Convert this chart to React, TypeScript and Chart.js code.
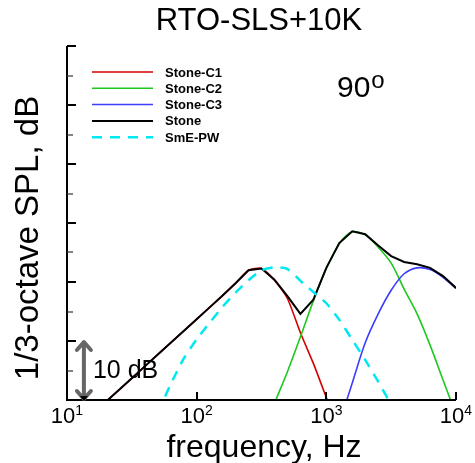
import React, { useEffect, useRef } from "react";
import { Chart, registerables } from "chart.js";

Chart.register(...registerables);

const FONT = '"Liberation Sans", Arial, Helvetica, sans-serif';

// 1/3-octave band centre frequencies (Hz, exact base-10 values)
const bandFreqs = [12.59, 15.85, 19.95, 25.12, 31.62, 39.81, 50.12, 63.1, 79.43, 100, 125.9, 158.5, 199.5, 251.2, 316.2, 398.1, 501.2, 631, 794.3, 1000, 1259, 1585, 1995, 2512, 3162, 3981, 5012, 6310, 7943, 10000];

// SPL values (dB), null = not plotted
const stoneC1 = [-4.3, -2.3, -0.3, 1.7, 3.7, 5.7, 7.7, 9.7, 11.7, 13.7, 15.7, 17.7, 19.8, 22.0, 22.3, 20.3, 17.2, 11.4, 6.2, 0.4, -5.5, null, null, null, null, null, null, null, null, null];
const stoneC2 = [null, null, null, null, null, null, null, null, null, null, null, null, null, null, -6.5, -0.6, 4.8, 10.7, 16.8, 22.3, 26.5, 28.5, 28.0, 25.9, 23.2, 18.8, 14.6, 9.3, 3.4, -2.5];
const stoneC3 = [null, null, null, null, null, null, null, null, null, null, null, null, null, null, null, null, null, null, null, null, -4.0, 2.9, 9.7, 14.6, 18.6, 21.4, 22.4, 22.1, 20.8, 18.9];
const stoneTotal = [-4.3, -2.3, -0.3, 1.7, 3.7, 5.7, 7.7, 9.7, 11.7, 13.7, 15.7, 17.7, 19.8, 22.0, 22.3, 20.4, 17.6, 14.6, 17.0, 22.4, 26.6, 28.6, 28.1, 26.2, 24.4, 23.4, 23.0, 22.4, 21.0, 19.0];
const smePW = [null, null, null, null, null, null, -2.2, 2.7, 7.0, 10.3, 13.1, 15.8, 18.2, 20.3, 22.0, 22.5, 22.2, 20.2, 18.3, 16.4, 13.6, 10.2, 6.8, 3.1, -0.8, null, null, null, null, null];

const seriesNames = ["Stone-C1", "Stone-C2", "Stone-C3", "Stone", "SmE-PW"];
const seriesColors = ["#d40000", "#1ec81e", "#3c3cff", "#000000", "#00e8f0"];

const xTickValues = [10, 100, 1000, 10000];
const xTickBase = "10";
const xTickExponents = ["1", "2", "3", "4"];
const yTickValues = [5, 10, 15, 20, 25, 30, 35, 40, 45, 50, 55, 60];
const yMin = 0;
const yMax = 60;

const titleText = "RTO-SLS+10K";
const xAxisTitle = "frequency, Hz";
const yAxisTitle = "1/3-octave SPL, dB";
const angleValue = "90";
const angleMark = "o";
const scaleBarLabel = "10 dB";
const scaleBarFreq = 13.5;
const scaleBarRange = [0, 10];

function pts(vals: (number | null)[]) {
  return bandFreqs.map((f, i) => ({ x: f, y: vals[i] }));
}

const overlayPlugin = {
  id: "overlay",
  afterDatasetsDraw(chart: any) {
    const { ctx, chartArea: ca } = chart;
    const xs = chart.scales.x;
    const ys = chart.scales.y;
    ctx.save();
    ctx.fillStyle = "#000";
    ctx.strokeStyle = "#000";

    // axis lines
    ctx.lineWidth = 2;
    ctx.beginPath();
    ctx.moveTo(ca.left, ca.top);
    ctx.lineTo(ca.left, ca.bottom);
    ctx.lineTo(ca.right, ca.bottom);
    ctx.stroke();

    // y ticks (inward)
    yTickValues.forEach((v) => {
      const py = Math.round(ys.getPixelForValue(v));
      const major = v % 10 === 0;
      ctx.lineWidth = major ? 2 : 1.2;
      ctx.strokeStyle = major ? "#000" : "#333";
      ctx.beginPath();
      ctx.moveTo(ca.left, py);
      ctx.lineTo(ca.left + (major ? 9 : 6), py);
      ctx.stroke();
    });

    // x ticks (inward)
    ctx.strokeStyle = "#000";
    ctx.lineWidth = 2;
    xTickValues.forEach((v) => {
      const px = Math.round(xs.getPixelForValue(v));
      ctx.beginPath();
      ctx.moveTo(px, ca.bottom);
      ctx.lineTo(px, ca.bottom - 8);
      ctx.stroke();
    });

    // x tick labels 10^n
    ctx.textAlign = "left";
    ctx.textBaseline = "alphabetic";
    xTickValues.forEach((v, i) => {
      const px = xs.getPixelForValue(v);
      ctx.font = `22px ${FONT}`;
      const wb = ctx.measureText(xTickBase).width;
      ctx.font = `14px ${FONT}`;
      const we = ctx.measureText(xTickExponents[i]).width;
      const start = px - (wb + we) / 2;
      ctx.font = `22px ${FONT}`;
      ctx.fillText(xTickBase, start, ca.bottom + 23);
      ctx.font = `14px ${FONT}`;
      ctx.fillText(xTickExponents[i], start + wb, ca.bottom + 15);
    });

    // title
    ctx.textAlign = "center";
    ctx.font = `31px ${FONT}`;
    ctx.fillText(titleText, 259, 30);

    // x axis title
    ctx.font = `32px ${FONT}`;
    ctx.fillText(xAxisTitle, 264, 457);

    // y axis title
    ctx.save();
    ctx.translate(38, 238);
    ctx.rotate(-Math.PI / 2);
    ctx.font = `33px ${FONT}`;
    ctx.textAlign = "center";
    ctx.fillText(yAxisTitle, 0, 0);
    ctx.restore();

    // angle label
    ctx.textAlign = "left";
    ctx.font = `30px ${FONT}`;
    const ax = ca.left + 270;
    ctx.fillText(angleValue, ax, ca.top + 51);
    const aw = ctx.measureText(angleValue).width;
    ctx.font = `24px ${FONT}`;
    ctx.fillText(angleMark, ax + aw + 1, ca.top + 42);

    // legend
    const lx0 = ca.left + 25;
    const lx1 = ca.left + 86;
    const ltx = ca.left + 98;
    ctx.font = `bold 13px ${FONT}`;
    ctx.textBaseline = "middle";
    seriesNames.forEach((name, i) => {
      const ly = ca.top + 26 + i * 16.3;
      ctx.save();
      ctx.strokeStyle = seriesColors[i];
      ctx.lineWidth = i === 4 ? 2.5 : i === 3 ? 2 : 1.5;
      if (i === 4) ctx.setLineDash([10, 8]);
      ctx.beginPath();
      ctx.moveTo(lx0, ly);
      ctx.lineTo(lx1, ly);
      ctx.stroke();
      ctx.restore();
      ctx.fillStyle = "#000";
      ctx.fillText(name, ltx, ly + 1);
    });

    // 10 dB scale arrow
    const bx = xs.getPixelForValue(scaleBarFreq);
    const by0 = ys.getPixelForValue(scaleBarRange[0]);
    const by1 = ys.getPixelForValue(scaleBarRange[1]);
    ctx.strokeStyle = "#666";
    ctx.lineWidth = 4;
    ctx.lineCap = "round";
    ctx.lineJoin = "round";
    ctx.beginPath();
    ctx.moveTo(bx, by1 + 2);
    ctx.lineTo(bx, by0 - 2);
    ctx.stroke();
    ctx.beginPath();
    ctx.moveTo(bx - 7, by1 + 9);
    ctx.lineTo(bx, by1 + 1);
    ctx.lineTo(bx + 7, by1 + 9);
    ctx.stroke();
    ctx.beginPath();
    ctx.moveTo(bx - 7, by0 - 9);
    ctx.lineTo(bx, by0 - 1);
    ctx.lineTo(bx + 7, by0 - 9);
    ctx.stroke();
    ctx.fillStyle = "#000";
    ctx.beginPath();
    ctx.moveTo(bx - 4, by0 - 4);
    ctx.lineTo(bx + 4, by0 - 4);
    ctx.lineTo(bx, by0 + 1);
    ctx.closePath();
    ctx.fill();

    ctx.fillStyle = "#000";
    ctx.textBaseline = "alphabetic";
    ctx.textAlign = "left";
    ctx.font = `25px ${FONT}`;
    ctx.fillText(scaleBarLabel, bx + 9, by0 - 22);

    ctx.restore();
  },
};

export default function App() {
  const canvasRef = useRef<HTMLCanvasElement | null>(null);

  useEffect(() => {
    const canvas = canvasRef.current;
    if (!canvas) return;
    const common = { pointRadius: 0, fill: false, spanGaps: false };
    const chart = new Chart(canvas, {
      type: "line",
      data: {
        datasets: [
          { ...common, label: seriesNames[4], data: pts(smePW), borderColor: seriesColors[4], borderWidth: 2.5, borderDash: [10, 8], tension: 0.2, order: 0 },
          { ...common, label: seriesNames[3], data: pts(stoneTotal), borderColor: seriesColors[3], borderWidth: 2, tension: 0, order: 1 },
          { ...common, label: seriesNames[2], data: pts(stoneC3), borderColor: seriesColors[2], borderWidth: 1.6, tension: 0.3, order: 2 },
          { ...common, label: seriesNames[1], data: pts(stoneC2), borderColor: seriesColors[1], borderWidth: 1.6, tension: 0.3, order: 3 },
          { ...common, label: seriesNames[0], data: pts(stoneC1), borderColor: seriesColors[0], borderWidth: 1.6, tension: 0.2, order: 4 },
        ],
      },
      options: {
        animation: false,
        responsive: false,
        events: [],
        layout: { padding: { left: 67, right: 19, top: 46, bottom: 63 } },
        plugins: { legend: { display: false }, title: { display: false }, tooltip: { enabled: false } },
        scales: {
          x: { type: "logarithmic", min: 10, max: 10000, display: false },
          y: { type: "linear", min: yMin, max: yMax, display: false },
        },
      },
      plugins: [overlayPlugin],
    } as any);
    return () => chart.destroy();
  }, []);

  return (
    <div style={{ position: "absolute", left: 0, top: 0, width: 475, height: 463, background: "#fff" }}>
      <canvas ref={canvasRef} width={475} height={463} style={{ display: "block", width: 475, height: 463 }} />
    </div>
  );
}
